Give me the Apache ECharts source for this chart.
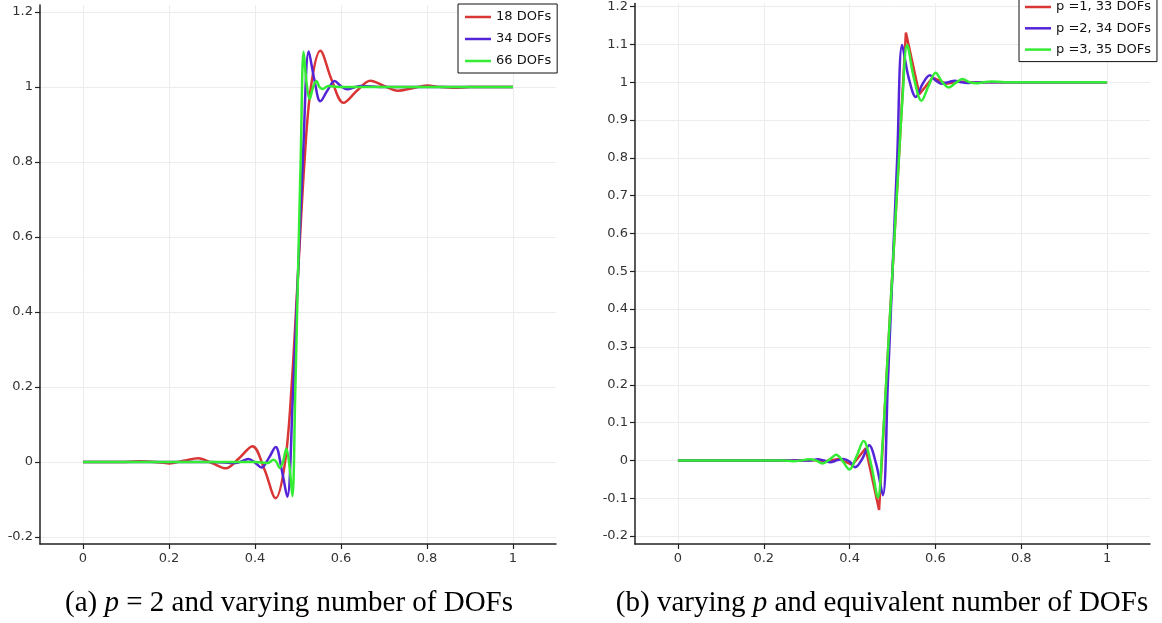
<!DOCTYPE html>
<html>
<head>
<meta charset="utf-8">
<script src="https://cdn.jsdelivr.net/npm/echarts@6/dist/echarts.min.js"></script>
<style>
html,body{margin:0;padding:0;background:#fff;}
#chart{width:1162px;height:623px;}
</style>
</head>
<body>
<div id="chart"></div>
<script>
// ---------- Tick labels ----------
const xTicks = [0, 0.2, 0.4, 0.6, 0.8, 1];
const yTicksA = [-0.2, 0, 0.2, 0.4, 0.6, 0.8, 1, 1.2];
const yTicksB = [-0.2, -0.1, 0, 0.1, 0.2, 0.3, 0.4, 0.5, 0.6, 0.7, 0.8, 0.9, 1, 1.1, 1.2];

// ---------- Panel (a): p = 2, varying DOFs ----------
const namesA = ['18 DOFs', '34 DOFs', '66 DOFs'];
const a18x = [0, 0.1, 0.135, 0.168, 0.2, 0.234, 0.268, 0.30, 0.332, 0.363, 0.394, 0.422, 0.448, 0.47, 0.485, 0.5, 0.515, 0.53, 0.552, 0.578, 0.606, 0.637, 0.668, 0.70, 0.732, 0.766, 0.8, 0.832, 0.865, 0.9, 1];
const a18y = [0, 0, 0.002, 0, -0.004, 0.003, 0.01, -0.003, -0.017, 0.01, 0.042, -0.02, -0.097, 0.0, 0.2, 0.5, 0.8, 1.0, 1.097, 1.02, 0.958, 0.99, 1.017, 1.003, 0.99, 0.997, 1.004, 1.0, 0.998, 1, 1];
const a34x = [0, 0.3, 0.355, 0.37, 0.385, 0.40, 0.415, 0.432, 0.448, 0.462, 0.475, 0.4875, 0.5, 0.5125, 0.525, 0.538, 0.552, 0.568, 0.585, 0.60, 0.615, 0.63, 0.645, 0.7, 1];
const a34y = [0, 0, -0.003, 0.002, 0.008, -0.002, -0.015, 0.01, 0.04, -0.02, -0.093, 0.16, 0.5, 0.84, 1.095, 1.02, 0.962, 0.99, 1.016, 1.002, 0.994, 0.999, 1.003, 1, 1];
const a66x = [0, 0.4, 0.43, 0.443, 0.45, 0.457, 0.465, 0.473, 0.48, 0.487, 0.4935, 0.5, 0.5065, 0.513, 0.52, 0.527, 0.535, 0.543, 0.55, 0.557, 0.571, 0.6, 1];
const a66y = [0, 0, -0.003, 0.006, 0.0, -0.016, 0.0, 0.036, -0.01, -0.091, 0.18, 0.5, 0.82, 1.094, 1.01, 0.968, 1.0, 1.016, 1.0, 0.995, 1.003, 1, 1];

// ---------- Panel (b): varying p, equivalent DOFs ----------
const namesB = ['p =1, 33 DOFs', 'p =2, 34 DOFs', 'p =3, 35 DOFs'];
const b1x = [0, 0.25, 0.28125, 0.3125, 0.34375, 0.375, 0.40625, 0.4375, 0.46875, 0.5, 0.53125, 0.5625, 0.59375, 0.625, 0.65625, 0.6875, 0.71875, 0.75, 1];
const b1y = [0, 0, 0.0, 0.001, -0.002, 0.004, -0.012, 0.032, -0.131, 0.5, 1.131, 0.968, 1.012, 0.996, 1.002, 0.999, 1.0, 1, 1];
const b2x = [0, 0.28, 0.31, 0.325, 0.34, 0.355, 0.37, 0.385, 0.40, 0.413, 0.43, 0.4455, 0.462, 0.4775, 0.489, 0.5, 0.511, 0.5225, 0.538, 0.5545, 0.57, 0.587, 0.60, 0.614, 0.63, 0.645, 0.66, 0.675, 0.72, 1];
const b2y = [0, 0, 0, 0.003, 0, -0.005, 0, 0.004, -0.003, -0.018, 0.005, 0.04, -0.01, -0.092, 0.2, 0.5, 0.8, 1.098, 1.01, 0.961, 0.995, 1.018, 1.005, 0.996, 1.0, 1.004, 1.0, 0.998, 1, 1];
const b3x = [0, 0.24, 0.27, 0.288, 0.305, 0.321, 0.337, 0.353, 0.369, 0.384, 0.3995, 0.416, 0.4325, 0.45, 0.466, 0.476, 0.488, 0.5, 0.512, 0.524, 0.534, 0.55, 0.5675, 0.584, 0.6005, 0.616, 0.631, 0.647, 0.663, 0.679, 0.695, 0.712, 0.73, 0.76, 1];
const b3y = [0, 0, -0.002, 0, 0.003, 0, -0.008, 0.002, 0.015, -0.002, -0.024, 0.01, 0.051, -0.01, -0.098, 0.03, 0.26, 0.5, 0.74, 0.97, 1.098, 1.01, 0.951, 0.99, 1.025, 1.0, 0.986, 0.998, 1.008, 1.0, 0.997, 1.0, 1.002, 1, 1];

const colors = ['#d93636', '#5424d8', '#33ec33'];
const zip = (xs, ys) => xs.map((x, i) => [x, ys[i]]);

const LABEL_FONT = 'DejaVu Sans';
const gridLine = { show: true, lineStyle: { color: '#ececec', width: 1 } };
const axLine = { show: true, onZero: false, lineStyle: { color: '#222', width: 1.5 } };

function xAxisFor(gi) {
  return {
    type: 'value', gridIndex: gi, min: -0.1, max: 1.1,
    axisLine: axLine,
    axisTick: { show: true, length: 5, customValues: xTicks, lineStyle: { color: '#222', width: 1.2 } },
    axisLabel: { customValues: xTicks, color: '#333', fontFamily: LABEL_FONT, fontSize: 13, margin: 8 },
    splitLine: gridLine
  };
}
function yAxisFor(gi, min, max, ticks) {
  return {
    type: 'value', gridIndex: gi, min: min, max: max,
    axisLine: axLine,
    axisTick: { show: true, length: 5, customValues: ticks, lineStyle: { color: '#222', width: 1.2 } },
    axisLabel: { customValues: ticks, color: '#333', fontFamily: LABEL_FONT, fontSize: 13, margin: 7 },
    splitLine: gridLine
  };
}
function lineSeries(name, data, idx, color, smooth) {
  return {
    name: name, type: 'line', xAxisIndex: idx, yAxisIndex: idx, data: data,
    symbol: 'none', smooth: smooth, lineStyle: { width: 2.5, color: color },
    itemStyle: { color: color }, animation: false, z: 2
  };
}

const legendCommon = {
  orient: 'vertical', backgroundColor: '#fff', borderColor: '#111', borderWidth: 1,
  itemWidth: 26, itemHeight: 2.5, icon: 'rect',
  textStyle: { fontFamily: LABEL_FONT, fontSize: 13, lineHeight: 14, color: '#111' },
  borderRadius: 0, selectedMode: false
};

const chart = echarts.init(document.getElementById('chart'), null, { renderer: 'canvas' });
chart.setOption({
  backgroundColor: '#fff',
  animation: false,
  grid: [
    { left: 40, top: 5, width: 516, height: 539 },
    { left: 635, top: 0, width: 515, height: 544 }
  ],
  xAxis: [xAxisFor(0), xAxisFor(1)],
  yAxis: [yAxisFor(0, -0.219, 1.219, yTicksA), yAxisFor(1, -0.221, 1.208, yTicksB)],
  legend: [
    Object.assign({}, legendCommon, { data: namesA, left: 458, top: 4, itemGap: 8, padding: [6, 6, 5, 7] }),
    Object.assign({}, legendCommon, { data: namesB, left: 1019, top: -6, itemGap: 7.3, padding: [6, 6, 5, 6] })
  ],
  series: [
    lineSeries(namesA[0], zip(a18x, a18y), 0, colors[0], 0.35),
    lineSeries(namesA[1], zip(a34x, a34y), 0, colors[1], 0.35),
    lineSeries(namesA[2], zip(a66x, a66y), 0, colors[2], 0.35),
    lineSeries(namesB[0], zip(b1x, b1y), 1, colors[0], false),
    lineSeries(namesB[1], zip(b2x, b2y), 1, colors[1], 0.35),
    lineSeries(namesB[2], zip(b3x, b3y), 1, colors[2], 0.35)
  ],
  graphic: [
    { type: 'text', x: 289, y: 603, style: {
      text: '(a) {i|p} = 2 and varying number of DOFs',
      font: '29px "Liberation Serif"', fill: '#000', align: 'center', verticalAlign: 'middle',
      rich: { i: { fontStyle: 'italic', fontFamily: 'Liberation Serif', fontSize: 29, fill: '#000' } }
    } },
    { type: 'text', x: 882, y: 603, style: {
      text: '(b) varying {i|p} and equivalent number of DOFs',
      font: '29px "Liberation Serif"', fill: '#000', align: 'center', verticalAlign: 'middle',
      rich: { i: { fontStyle: 'italic', fontFamily: 'Liberation Serif', fontSize: 29, fill: '#000' } }
    } }
  ]
});
</script>
</body>
</html>
